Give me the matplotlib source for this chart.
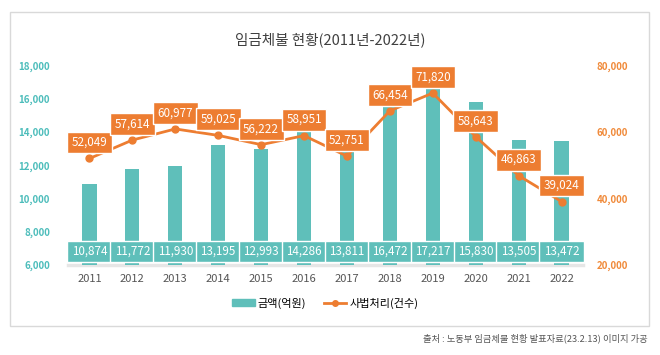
import matplotlib
matplotlib.use('Agg')
import matplotlib.pyplot as plt
from matplotlib.patches import Rectangle, Patch
from matplotlib.lines import Line2D

plt.rcParams['font.family'] = ['Noto Sans CJK KR', 'DejaVu Sans']

# data
years = ['2011', '2012', '2013', '2014', '2015', '2016',
         '2017', '2018', '2019', '2020', '2021', '2022']
amount = [10874, 11772, 11930, 13195, 12993, 14286,
          13811, 16472, 17217, 15830, 13505, 13472]      # 금액(억원)
cases = [52049, 57614, 60977, 59025, 56222, 58951,
         52751, 66454, 71820, 58643, 46863, 39024]       # 사법처리(건수)
left_ticks = [6000, 8000, 10000, 12000, 14000, 16000, 18000]
right_ticks = [20000, 40000, 60000, 80000]

teal = '#5FBFBA'
orange = '#ED7D31'

W, H = 660, 355
fig = plt.figure(figsize=(6.6, 3.55), dpi=100)

# light frame around the chart
fig.patches.append(Rectangle((10 / W, 1 - 326 / H), 639 / W, 314 / H,
                             transform=fig.transFigure, fill=False,
                             ec='#d9d9d9', lw=1))

ax = fig.add_axes([68 / W, 1 - 264.5 / H, 515 / W, (264.5 - 66) / H])
ax2 = ax.twinx()

x = list(range(len(years)))
ax.bar(x, amount, width=0.33, color=teal, zorder=2)
ax.set_xlim(-0.5, len(years) - 0.5)
ax.set_ylim(6000, 18000)
ax.axhline(6000, color='#e6e6e6', lw=2.5, zorder=1, clip_on=False)

for i, v in zip(x, amount):
    ax.annotate(f'{v:,}', xy=(i, 6000), xytext=(0, 13), textcoords='offset pixels',
                ha='center', va='center', color='white', fontsize=8.4, zorder=4,
                bbox=dict(boxstyle='square,pad=0.38', fc=teal, ec='white', lw=1))

ax2.plot(x, cases, color=orange, lw=2, marker='o', ms=5, zorder=3)
ax2.set_ylim(20000, 80000)
for i, v in zip(x, cases):
    ax2.annotate(f'{v:,}', xy=(i, v), xytext=(0, 16), textcoords='offset pixels',
                 ha='center', va='center', color='white', fontsize=8.4, zorder=4,
                 bbox=dict(boxstyle='square,pad=0.38', fc=orange, ec='white', lw=1))

ax.set_xticks(x)
ax.set_xticklabels(years, fontsize=8, color='#555555')
ax.set_yticks(left_ticks)
ax.set_yticklabels([f'{t:,}' for t in left_ticks], fontsize=7, color='#4DBDBB',
                   fontweight='bold')
ax2.set_yticks(right_ticks)
ax2.set_yticklabels([f'{t:,}' for t in right_ticks], fontsize=7, color='#F08A3A',
                    fontweight='bold')
ax.tick_params(axis='x', length=0, pad=7)
ax.tick_params(axis='y', length=0, pad=13)
ax2.tick_params(axis='y', length=0, pad=10)
for a in (ax, ax2):
    for s in a.spines.values():
        s.set_visible(False)

fig.text(0.5, 1 - 40 / H, '임금체불 현황(2011년-2022년)', ha='center', va='center',
         fontsize=10.5, color='#404040')

handles = [Patch(color=teal),
           Line2D([], [], color=orange, lw=2, marker='o', ms=4)]
fig.legend(handles, ['금액(억원)', '사법처리(건수)'], loc='center',
           bbox_to_anchor=(325.5 / W, 1 - 303 / H), ncol=2, frameon=False,
           fontsize=8, handlelength=2.0, handleheight=0.55, columnspacing=1.6,
           handletextpad=0.3)

fig.text(648 / W, 1 - 338 / H, '출처 : 노동부 임금체불 현황 발표자료(23.2.13) 이미지 가공',
         ha='right', va='center', fontsize=6.7, color='#555555')

fig.savefig('out.png', dpi=100)
